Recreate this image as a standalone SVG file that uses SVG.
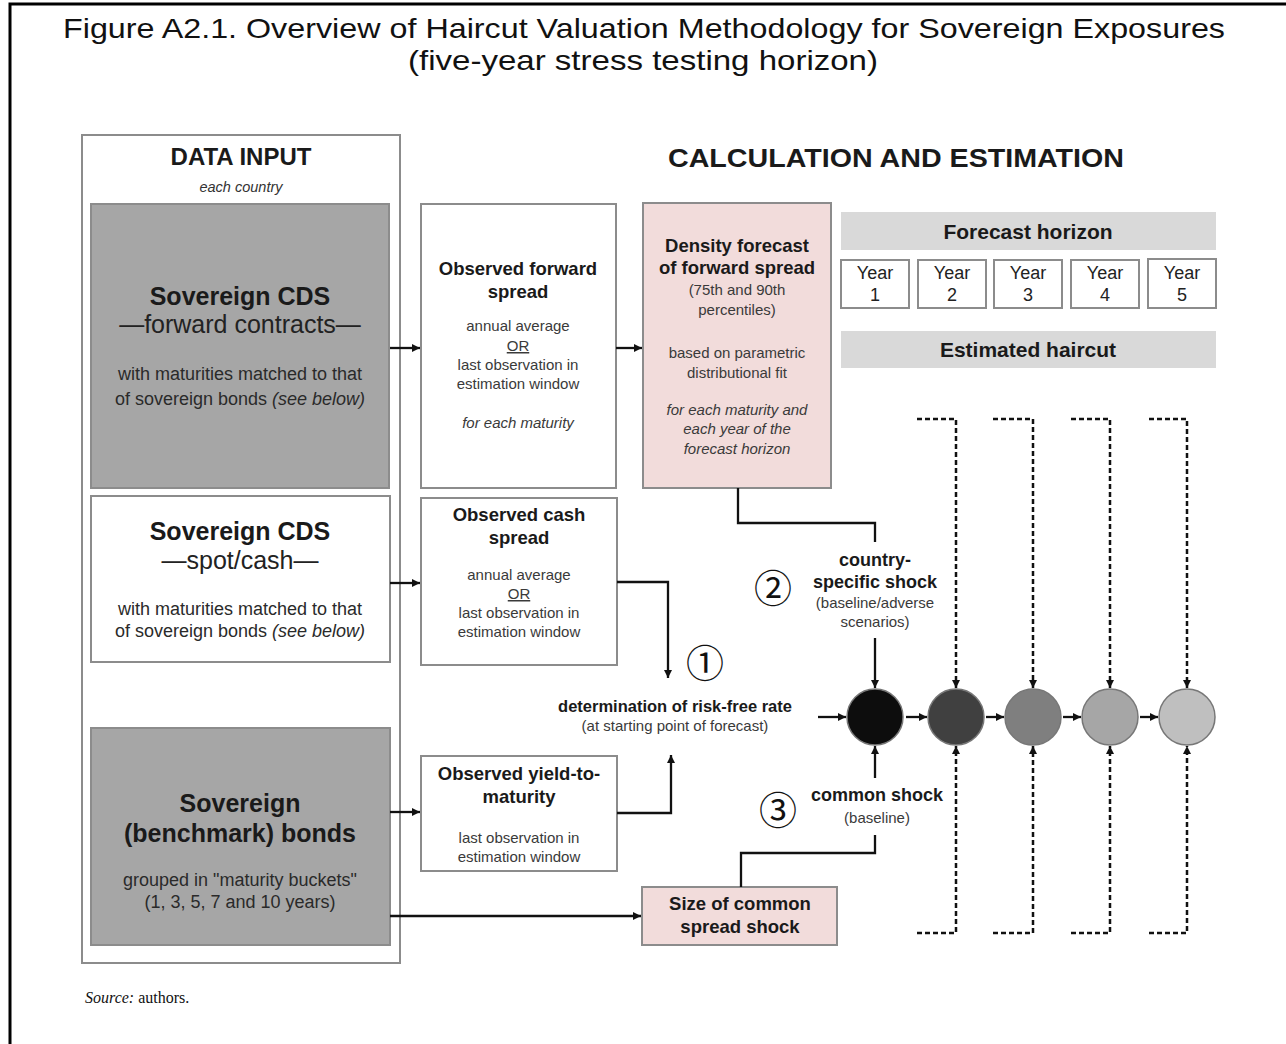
<svg xmlns="http://www.w3.org/2000/svg" width="1286" height="1044" viewBox="0 0 1286 1044">
<defs>
<marker id="ah" viewBox="0 0 10 10" refX="10" refY="5" markerWidth="9" markerHeight="8" markerUnits="userSpaceOnUse" orient="auto"><path d="M0,0 L10,5 L0,10 z" fill="#111"/></marker>
<style>
.t{font-family:"Liberation Sans",Arial,sans-serif;text-anchor:middle;}
.b{font-weight:bold;fill:#1a1a1a;}
.s{fill:#3a3a3a;font-size:15px;}
.i{font-style:italic;}
.box{stroke:#8c8c8c;stroke-width:2;}
.gray{fill:#a6a6a6;}
.white{fill:#fff;}
.pink{fill:#f2dcdb;}
.bar{fill:#d9d9d9;}
.con{fill:none;stroke:#111;stroke-width:2.3;}
.dash{fill:none;stroke:#111;stroke-width:2.5;stroke-dasharray:5 3;}
.num{font-family:"Noto Sans CJK JP","DejaVu Sans",sans-serif;font-size:38px;fill:#111;text-anchor:middle;}
</style>
</defs>
<rect width="1286" height="1044" fill="#fff"/>
<path d="M10,1044 V4 H1286" fill="none" stroke="#000" stroke-width="3"/>
<g id="title">
<text class="t" x="644" y="38" font-size="28" fill="#111" textLength="1162" lengthAdjust="spacingAndGlyphs">Figure A2.1. Overview of Haircut Valuation Methodology for Sovereign Exposures</text>
<text class="t" x="643" y="70" font-size="28" fill="#111" textLength="470" lengthAdjust="spacingAndGlyphs">(five-year stress testing horizon)</text>
</g>
<g id="data-input">
<rect class="box white" x="82" y="135" width="318" height="828"/>
<text class="t b" x="241" y="165" font-size="24">DATA INPUT</text>
<text class="t i" x="241" y="192" font-size="14.5" fill="#333">each country</text>
</g>
<g id="cds-forward">
<rect class="box gray" x="91" y="204" width="298" height="284"/>
<text class="t b" x="240" y="305" font-size="25">Sovereign CDS</text>
<text class="t" x="240" y="333" font-size="25" fill="#222">—forward contracts—</text>
<text class="t" x="240" y="380" font-size="18" fill="#2a2a2a">with maturities matched to that</text>
<text class="t" x="240" y="405" font-size="18" fill="#2a2a2a">of sovereign bonds <tspan font-style="italic">(see below)</tspan></text>
</g>
<g id="cds-spot">
<rect class="box white" x="91" y="496" width="299" height="166"/>
<text class="t b" x="240" y="540" font-size="25">Sovereign CDS</text>
<text class="t" x="240" y="569" font-size="25" fill="#222">—spot/cash—</text>
<text class="t" x="240" y="615" font-size="18" fill="#2a2a2a">with maturities matched to that</text>
<text class="t" x="240" y="637" font-size="18" fill="#2a2a2a">of sovereign bonds <tspan font-style="italic">(see below)</tspan></text>
</g>
<g id="bonds">
<rect class="box gray" x="91" y="728" width="299" height="217"/>
<text class="t b" x="240" y="812" font-size="25">Sovereign</text>
<text class="t b" x="240" y="842" font-size="25">(benchmark) bonds</text>
<text class="t" x="240" y="886" font-size="18" fill="#2a2a2a">grouped in "maturity buckets"</text>
<text class="t" x="240" y="908" font-size="18" fill="#2a2a2a">(1, 3, 5, 7 and 10 years)</text>
</g>
<g id="obs-forward">
<rect class="box white" x="421" y="204" width="195" height="284"/>
<text class="t b" x="518" y="275" font-size="18.5">Observed forward</text>
<text class="t b" x="518" y="298" font-size="18.5">spread</text>
<text class="t s" x="518" y="331">annual average</text>
<text class="t s" x="518" y="351" text-decoration="underline">OR</text>
<text class="t s" x="518" y="370">last observation  in</text>
<text class="t s" x="518" y="389">estimation  window</text>
<text class="t s i" x="518" y="428">for each maturity</text>
</g>
<g id="density">
<rect class="box pink" x="643" y="203" width="188" height="285"/>
<text class="t b" x="737" y="252" font-size="18.5">Density forecast</text>
<text class="t b" x="737" y="274" font-size="18.5">of forward spread</text>
<text class="t s" x="737" y="295">(75th and 90th</text>
<text class="t s" x="737" y="315">percentiles)</text>
<text class="t s" x="737" y="358">based on parametric</text>
<text class="t s" x="737" y="378">distributional  fit</text>
<text class="t s i" x="737" y="415">for each maturity and</text>
<text class="t s i" x="737" y="434">each year of the</text>
<text class="t s i" x="737" y="454">forecast horizon</text>
</g>
<g id="obs-cash">
<rect class="box white" x="421" y="498" width="196" height="167"/>
<text class="t b" x="519" y="521" font-size="18.5">Observed cash</text>
<text class="t b" x="519" y="544" font-size="18.5">spread</text>
<text class="t s" x="519" y="580">annual average</text>
<text class="t s" x="519" y="599" text-decoration="underline">OR</text>
<text class="t s" x="519" y="618">last observation  in</text>
<text class="t s" x="519" y="637">estimation  window</text>
</g>
<g id="obs-yield">
<rect class="box white" x="421" y="756" width="196" height="115"/>
<text class="t b" x="519" y="780" font-size="18.5">Observed yield-to-</text>
<text class="t b" x="519" y="803" font-size="18.5">maturity</text>
<text class="t s" x="519" y="843">last observation  in</text>
<text class="t s" x="519" y="862">estimation  window</text>
</g>
<g id="common-size">
<rect class="box pink" x="642" y="887" width="195" height="58"/>
<text class="t b" x="740" y="910" font-size="18.5">Size of common</text>
<text class="t b" x="740" y="933" font-size="18.5">spread shock</text>
</g>
<g id="calc-header">
<text class="t b" x="896" y="167" font-size="25" textLength="456" lengthAdjust="spacingAndGlyphs">CALCULATION AND ESTIMATION</text>
</g>
<g id="forecast-horizon">
<rect class="bar" x="841" y="212" width="375" height="38"/>
<text class="t b" x="1028" y="239" font-size="21">Forecast horizon</text>
</g>
<g id="years">
<rect class="box white" x="841" y="260" width="68" height="48"/>
<text class="t" x="875" y="279" font-size="18" fill="#222">Year</text><text class="t" x="875" y="301" font-size="18" fill="#222">1</text>
<rect class="box white" x="918" y="260" width="68" height="48"/>
<text class="t" x="952" y="279" font-size="18" fill="#222">Year</text><text class="t" x="952" y="301" font-size="18" fill="#222">2</text>
<rect class="box white" x="994" y="260" width="68" height="48"/>
<text class="t" x="1028" y="279" font-size="18" fill="#222">Year</text><text class="t" x="1028" y="301" font-size="18" fill="#222">3</text>
<rect class="box white" x="1071" y="260" width="68" height="48"/>
<text class="t" x="1105" y="279" font-size="18" fill="#222">Year</text><text class="t" x="1105" y="301" font-size="18" fill="#222">4</text>
<rect class="box white" x="1148" y="259" width="68" height="49"/>
<text class="t" x="1182" y="279" font-size="18" fill="#222">Year</text><text class="t" x="1182" y="301" font-size="18" fill="#222">5</text>
</g>
<g id="estimated-haircut">
<rect class="bar" x="841" y="331" width="375" height="37"/>
<text class="t b" x="1028" y="357" font-size="21">Estimated haircut</text>
</g>
<g id="risk-free">
<text class="num" x="705" y="677">①</text>
<text class="t b" x="675" y="712" font-size="16.5">determination of risk-free rate</text>
<text class="t s" x="675" y="731">(at starting point of forecast)</text>
</g>
<g id="country-shock">
<text class="num" x="773" y="602">②</text>
<text class="t b" x="875" y="566" font-size="18">country-</text>
<text class="t b" x="875" y="588" font-size="18">specific shock</text>
<text class="t s" x="875" y="608">(baseline/adverse</text>
<text class="t s" x="875" y="627">scenarios)</text>
</g>
<g id="common-shock">
<text class="num" x="778" y="824">③</text>
<text class="t b" x="877" y="801" font-size="18">common shock</text>
<text class="t s" x="877" y="823">(baseline)</text>
</g>
<g id="haircut-circles" stroke="#777" stroke-width="1.5">
<circle cx="875" cy="717" r="28" fill="#0d0d0d"/>
<circle cx="956" cy="717" r="28" fill="#404040"/>
<circle cx="1033" cy="717" r="28" fill="#7f7f7f"/>
<circle cx="1110" cy="717" r="28" fill="#a6a6a6"/>
<circle cx="1187" cy="717" r="28" fill="#bfbfbf"/>
</g>
<g id="connectors">
<path class="con" d="M390,348 H420" marker-end="url(#ah)"/>
<path class="con" d="M616,348 H642" marker-end="url(#ah)"/>
<path class="con" d="M390,583 H420" marker-end="url(#ah)"/>
<path class="con" d="M617,582 H668 V678" marker-end="url(#ah)"/>
<path class="con" d="M390,812 H420" marker-end="url(#ah)"/>
<path class="con" d="M617,813 H671 V755" marker-end="url(#ah)"/>
<path class="con" d="M390,916 H641" marker-end="url(#ah)"/>
<path class="con" d="M738,488 V523 H875 V542"/>
<path class="con" d="M875,638 V688" marker-end="url(#ah)"/>
<path class="con" d="M741,887 V853 H875 V835"/>
<path class="con" d="M875,778 V746" marker-end="url(#ah)"/>
<path class="con" d="M818,717 H846" marker-end="url(#ah)"/>
<path class="con" d="M906,717 H927" marker-end="url(#ah)"/>
<path class="con" d="M986,717 H1004" marker-end="url(#ah)"/>
<path class="con" d="M1063,717 H1081" marker-end="url(#ah)"/>
<path class="con" d="M1140,717 H1158" marker-end="url(#ah)"/>
<path class="dash" d="M917,419 H956 V688" marker-end="url(#ah)"/>
<path class="dash" d="M993,419 H1033 V688" marker-end="url(#ah)"/>
<path class="dash" d="M1071,419 H1110 V688" marker-end="url(#ah)"/>
<path class="dash" d="M1149,419 H1187 V688" marker-end="url(#ah)"/>
<path class="dash" d="M917,933 H956 V746" marker-end="url(#ah)"/>
<path class="dash" d="M993,933 H1033 V746" marker-end="url(#ah)"/>
<path class="dash" d="M1071,933 H1110 V746" marker-end="url(#ah)"/>
<path class="dash" d="M1149,933 H1187 V746" marker-end="url(#ah)"/>
</g>
<g id="source">
<text x="85" y="1003" font-family="'Liberation Serif','Times New Roman',serif" font-size="16" fill="#111"><tspan font-style="italic">Source:</tspan> authors.</text>
</g>
</svg>
